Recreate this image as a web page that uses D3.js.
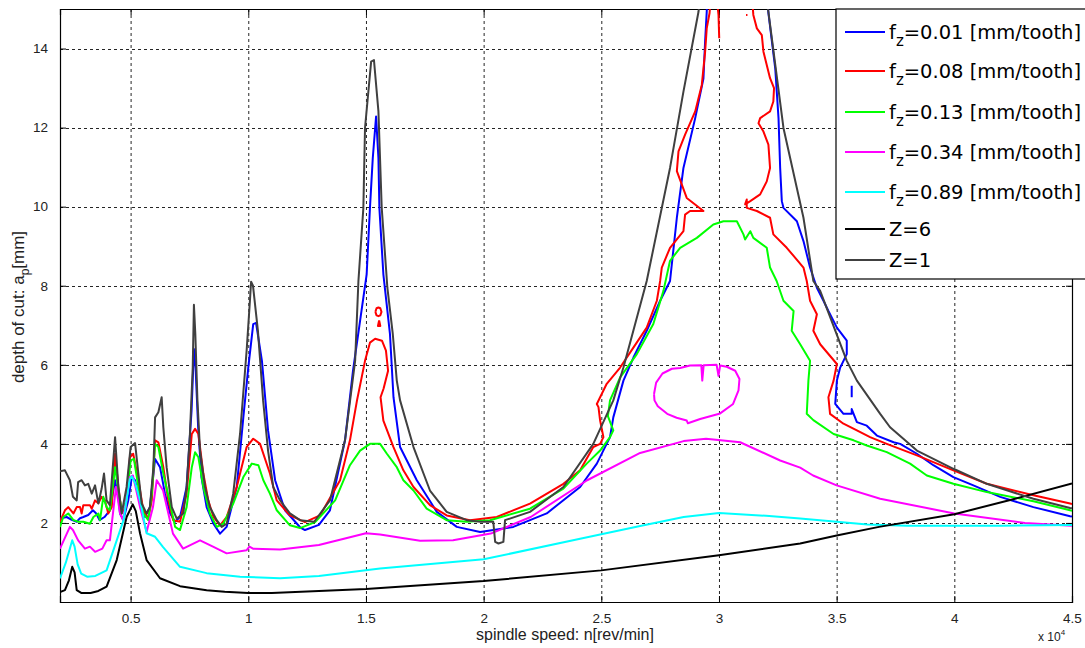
<!DOCTYPE html>
<html><head><meta charset="utf-8">
<script src="https://cdn.jsdelivr.net/npm/d3@7"></script>
<style>body{margin:0;background:#fff}svg{display:block}</style>
</head><body>
<svg id="c" width="1085" height="648"></svg>
<script>
// spindle speed in units of 10^4 rev/min, depth of cut in mm
const xTicks = [0.5,1,1.5,2,2.5,3,3.5,4,4.5];
const xTickLabels = ["0.5","1","1.5","2","2.5","3","3.5","4","4.5"];
const yTicks = [2,4,6,8,10,12,14];
const yTickLabels = ["2","4","6","8","10","12","14"];
const legendLabels = ["0.01","0.08","0.13","0.34","0.89"];

const fz001 = [
 [[0.2,2.11],[0.228,2.15],[0.25,2.08],[0.271,2.03],[0.285,2.12],[0.299,2.15],[0.32,2.2],[0.34,2.32],[0.354,2.24],[0.368,2.07],[0.389,2.15],[0.412,2.32],[0.434,3.08],[0.448,2.66],[0.455,2.24],[0.469,2.07],[0.49,2.57],[0.505,3.16],[0.519,3.08],[0.54,2.49],[0.561,2.15],[0.582,2.4],[0.604,3.62],[0.625,3.41],[0.646,2.74],[0.668,2.24],[0.689,2.03],[0.71,2.15],[0.738,2.91],[0.759,4.84],[0.769,6.40],[0.776,5.93],[0.787,4.42],[0.801,3.16],[0.823,2.4],[0.852,1.98],[0.88,1.73],[0.908,1.9],[0.951,2.91],[0.979,4.67],[1.0,5.93],[1.021,7.03],[1.033,7.06],[1.058,6.1],[1.084,4.34],[1.114,3.08],[1.156,2.32],[1.22,1.89],[1.241,1.82],[1.30,1.95],[1.347,2.32],[1.411,4.09],[1.445,5.85],[1.503,8.29],[1.517,9.97],[1.529,11.23],[1.543,12.28],[1.553,11.23],[1.557,9.97],[1.574,8.29],[1.602,6.78],[1.617,5.18],[1.645,3.92],[1.716,3.08],[1.801,2.28],[1.886,1.9],[1.985,1.77],[2.126,1.9],[2.268,2.24],[2.41,2.91],[2.481,3.5],[2.537,4.17],[2.551,4.67],[2.594,5.6],[2.637,6.19],[2.693,6.86],[2.75,7.62],[2.792,8.12],[2.821,9.72],[2.849,10.98],[2.899,12.24],[2.934,13.24],[2.941,14.17],[2.948,14.93],[2.95,15.3]],
 [[3.205,15.3],[3.21,14.9],[3.239,13.5],[3.253,12.24],[3.26,10.98],[3.267,10.14],[3.274,9.97],[3.331,9.63],[3.359,9.13],[3.387,8.46],[3.416,7.95],[3.444,7.62],[3.465,7.36],[3.501,6.94],[3.543,6.61],[3.543,6.27],[3.515,5.93],[3.501,5.6],[3.494,5.01],[3.529,4.76],[3.564,4.76],[3.564,4.88],[3.586,4.55],[3.628,4.46],[3.671,4.21],[3.742,4.04],[3.77,4.0],[3.841,3.75],[3.911,3.46],[3.996,3.16],[4.081,2.95],[4.195,2.66],[4.336,2.4],[4.492,2.17],[4.5,2.16]],
 [[3.564,5.47],[3.564,5.18]]
];

const fz008 = [
 [[0.2,2.03],[0.221,2.32],[0.235,2.4],[0.257,2.24],[0.271,2.4],[0.285,2.4],[0.292,2.24],[0.299,2.45],[0.327,2.45],[0.335,2.36],[0.349,2.57],[0.363,2.5],[0.377,2.66],[0.391,2.57],[0.405,2.24],[0.42,2.4],[0.434,3.75],[0.448,2.91],[0.462,2.24],[0.48,2.4],[0.497,3.66],[0.511,3.75],[0.533,3.08],[0.554,2.32],[0.575,2.11],[0.59,2.57],[0.604,4.09],[0.618,4.04],[0.639,3.41],[0.66,2.57],[0.681,2.07],[0.71,2.03],[0.738,2.74],[0.76,4.25],[0.774,4.38],[0.788,4.25],[0.809,3.25],[0.83,2.57],[0.852,2.15],[0.88,1.94],[0.908,2.15],[0.951,2.91],[0.993,3.92],[1.021,4.13],[1.05,4.0],[1.092,3.25],[1.121,2.57],[1.177,2.19],[1.241,2.02],[1.305,2.19],[1.39,3.08],[1.432,4.09],[1.462,5.1],[1.496,6.1],[1.517,6.56],[1.539,6.66],[1.568,6.61],[1.585,6.36],[1.594,5.85],[1.575,5.4],[1.562,5.18],[1.574,4.59],[1.617,3.92],[1.659,3.33],[1.702,2.91],[1.772,2.45],[1.843,2.19],[1.942,2.07],[2.056,2.15],[2.197,2.49],[2.339,2.99],[2.41,3.33],[2.466,3.92],[2.495,4.0],[2.509,4.17],[2.495,4.59],[2.488,4.93],[2.481,5.01],[2.495,5.18],[2.523,5.52],[2.58,5.93],[2.637,6.44],[2.693,6.94],[2.736,7.62],[2.75,8.12],[2.757,8.46],[2.792,8.96],[2.849,9.38],[2.856,9.8],[2.877,9.89],[2.934,9.89],[2.863,10.22],[2.821,10.9],[2.828,11.4],[2.856,11.82],[2.899,12.41],[2.927,13.08],[2.941,13.91],[2.948,14.51],[2.96,14.9],[2.965,15.3]],
 [[2.99,15.3],[2.998,14.85],[3.001,14.26]],
 [[3.115,14.85],[3.121,14.85]],
 [[3.14,15.3],[3.146,14.85],[3.161,14.51],[3.182,14.34],[3.189,13.92],[3.217,13.25],[3.234,13.0],[3.231,12.66],[3.217,12.41],[3.175,12.24],[3.168,12.11],[3.189,11.9],[3.21,11.57],[3.217,10.98],[3.203,10.64],[3.175,10.31],[3.133,10.14],[3.111,10.06],[3.118,10.18],[3.118,9.97],[3.161,9.89],[3.217,9.72],[3.231,9.3],[3.288,8.96],[3.359,8.46],[3.373,8.12],[3.387,7.62],[3.416,7.28],[3.401,6.86],[3.43,6.52],[3.501,6.02],[3.487,5.6],[3.465,5.18],[3.472,4.76],[3.529,4.51],[3.586,4.34],[3.642,4.17],[3.713,4.0],[3.841,3.71],[3.996,3.33],[4.138,2.99],[4.336,2.7],[4.492,2.49],[4.5,2.48]],
 [[1.540,7.34],[1.545,7.43],[1.553,7.45],[1.561,7.43],[1.566,7.34],[1.561,7.25],[1.553,7.23],[1.545,7.25],[1.540,7.34]],
 [[1.556,7.12],[1.561,6.98],[1.551,6.98],[1.556,7.12]]
];

const fz013 = [
 [[0.2,1.9],[0.214,2.15],[0.235,2.24],[0.257,2.07],[0.278,2.03],[0.299,2.03],[0.327,1.98],[0.342,2.15],[0.363,2.24],[0.37,2.07],[0.384,2.66],[0.398,2.4],[0.412,2.32],[0.434,3.41],[0.448,2.82],[0.462,2.32],[0.483,2.57],[0.5,3.58],[0.514,3.62],[0.533,2.91],[0.554,2.24],[0.575,2.07],[0.59,2.74],[0.604,4.0],[0.618,3.92],[0.639,3.25],[0.668,2.49],[0.689,1.9],[0.71,1.82],[0.738,2.4],[0.76,3.41],[0.774,3.79],[0.788,3.66],[0.809,2.91],[0.837,2.24],[0.866,1.9],[0.894,1.98],[0.936,2.49],[0.979,3.16],[1.015,3.5],[1.043,3.46],[1.064,3.08],[1.092,2.74],[1.121,2.32],[1.177,1.94],[1.22,1.87],[1.284,2.02],[1.369,2.57],[1.432,3.46],[1.475,3.83],[1.517,4.0],[1.56,4.0],[1.589,3.75],[1.631,3.41],[1.659,3.08],[1.702,2.82],[1.758,2.36],[1.843,2.07],[1.928,2.03],[2.027,2.07],[2.197,2.36],[2.339,2.87],[2.438,3.5],[2.495,3.83],[2.537,4.17],[2.551,4.34],[2.528,4.7],[2.537,5.1],[2.58,5.68],[2.651,6.27],[2.721,7.03],[2.764,7.87],[2.792,8.63],[2.835,8.96],[2.906,9.21],[2.976,9.55],[3.019,9.63],[3.076,9.63],[3.104,9.3],[3.111,9.17],[3.133,9.38],[3.146,9.21],[3.203,8.96],[3.217,8.46],[3.245,8.12],[3.274,7.62],[3.317,7.36],[3.309,6.86],[3.345,6.52],[3.387,6.1],[3.38,5.6],[3.373,4.76],[3.401,4.6],[3.487,4.25],[3.572,4.09],[3.628,3.96],[3.713,3.79],[3.812,3.5],[3.883,3.2],[3.996,2.99],[4.138,2.78],[4.336,2.55],[4.492,2.32],[4.5,2.31]]
];

const fz034 = [
 [[0.2,1.35],[0.242,1.9],[0.255,1.82],[0.277,1.56],[0.306,1.35],[0.327,1.4],[0.349,1.27],[0.38,1.35],[0.398,1.56],[0.412,1.56],[0.425,2.24],[0.438,2.91],[0.455,2.24],[0.468,2.07],[0.497,3.16],[0.51,3.2],[0.54,2.4],[0.568,1.77],[0.595,2.4],[0.611,3.08],[0.638,2.82],[0.68,1.73],[0.723,1.35],[0.795,1.56],[0.85,1.4],[0.908,1.23],[0.993,1.31],[1.005,1.4],[1.02,1.35],[1.135,1.33],[1.3,1.44],[1.5,1.74],[1.56,1.71],[1.73,1.55],[1.87,1.56],[2.03,1.73],[2.2,2.15],[2.44,3.08],[2.665,3.77],[2.85,4.07],[2.945,4.13],[3.09,4.04],[3.26,3.58],[3.345,3.4],[3.4,3.2],[3.5,2.95],[3.685,2.61],[4.0,2.24],[4.3,2.0],[4.5,1.93]],
 [[2.724,5.26],[2.733,5.55],[2.76,5.78],[2.8,5.9],[2.835,5.92],[2.877,5.98],[2.925,5.99],[2.929,5.6],[2.935,5.99],[2.99,6.0],[2.998,5.72],[3.005,5.98],[3.033,5.95],[3.069,5.85],[3.087,5.64],[3.083,5.35],[3.06,5.01],[3.005,4.77],[2.92,4.63],[2.868,4.52],[2.863,4.59],[2.82,4.66],[2.78,4.76],[2.74,4.95],[2.726,5.1],[2.724,5.26]]
];

const fz089 = [
 [[0.2,0.6],[0.225,1.0],[0.252,1.56],[0.262,1.4],[0.275,0.95],[0.29,0.72],[0.315,0.64],[0.35,0.66],[0.398,0.8],[0.441,1.56],[0.47,2.07],[0.496,3.1],[0.505,3.18],[0.52,3.0],[0.54,2.57],[0.568,1.74],[0.604,1.65],[0.638,1.39],[0.71,0.89],[0.823,0.73],[0.965,0.64],[1.135,0.6],[1.3,0.66],[1.56,0.85],[2.0,1.08],[2.41,1.6],[2.665,1.92],[2.85,2.15],[3.0,2.25],[3.2,2.18],[3.345,2.11],[3.5,2.03],[3.63,1.96],[3.8,1.93],[4.2,1.93],[4.5,1.95]]
];

const zSix = [
 [[0.2,0.25],[0.221,0.3],[0.238,0.55],[0.252,0.89],[0.262,0.75],[0.271,0.3],[0.29,0.23],[0.33,0.23],[0.363,0.28],[0.398,0.39],[0.441,1.06],[0.483,2.15],[0.509,2.47],[0.522,2.3],[0.54,1.74],[0.568,1.06],[0.625,0.6],[0.71,0.4],[0.823,0.3],[0.9,0.26],[1.0,0.23],[1.1,0.23],[1.2,0.25],[1.5,0.33],[2.0,0.53],[2.5,0.8],[3.0,1.18],[3.345,1.48],[3.5,1.68],[3.68,1.9],[4.0,2.22],[4.25,2.6],[4.5,3.0]]
];

const zOne = [
 [[0.2,3.31],[0.221,3.33],[0.242,3.08],[0.255,2.66],[0.271,2.57],[0.277,3.03],[0.292,3.08],[0.306,2.95],[0.32,2.99],[0.335,2.74],[0.349,2.95],[0.363,2.49],[0.377,2.87],[0.387,3.25],[0.398,2.57],[0.412,2.45],[0.434,4.17],[0.448,2.91],[0.462,2.24],[0.483,2.91],[0.5,3.92],[0.519,4.02],[0.533,3.25],[0.547,2.49],[0.568,2.24],[0.582,2.4],[0.597,3.41],[0.604,4.67],[0.618,4.8],[0.632,5.18],[0.639,4.42],[0.653,3.41],[0.675,2.4],[0.696,2.11],[0.724,2.24],[0.738,2.91],[0.752,4.25],[0.764,5.93],[0.769,7.52],[0.775,6.78],[0.784,5.1],[0.795,3.83],[0.816,2.91],[0.837,2.4],[0.866,2.07],[0.887,1.9],[0.908,1.98],[0.936,2.74],[0.965,4.25],[0.993,6.36],[1.007,7.62],[1.012,8.1],[1.02,8.0],[1.041,6.86],[1.063,5.1],[1.084,3.83],[1.106,2.91],[1.135,2.57],[1.177,2.24],[1.22,2.07],[1.28,2.03],[1.347,2.57],[1.411,4.09],[1.454,6.1],[1.468,8.12],[1.489,9.97],[1.496,11.99],[1.522,13.67],[1.534,13.71],[1.553,12.41],[1.567,9.97],[1.591,7.95],[1.614,6.78],[1.631,5.6],[1.645,5.1],[1.702,3.92],[1.772,2.82],[1.843,2.28],[1.928,2.07],[1.985,2.03],[2.041,2.03],[2.049,1.52],[2.063,1.48],[2.084,1.52],[2.091,2.07],[2.197,2.28],[2.339,2.91],[2.466,4.0],[2.551,5.1],[2.594,5.93],[2.693,8.12],[2.792,10.98],[2.849,12.91],[2.913,14.93],[2.92,15.3]],
 [[3.2,15.3],[3.21,14.93],[3.274,11.99],[3.359,9.72],[3.401,8.12],[3.43,7.87],[3.543,6.1],[3.586,5.6],[3.685,4.76],[3.727,4.42],[3.841,3.83],[3.996,3.37],[4.138,2.99],[4.336,2.61],[4.492,2.38],[4.5,2.37]]
];

const series = [
  {data: fz001, color:"#0000ff"},
  {data: fz008, color:"#ff0000"},
  {data: fz013, color:"#00ff00"},
  {data: fz034, color:"#ff00ff"},
  {data: fz089, color:"#00ffff"},
  {data: zSix, color:"#000000"},
  {data: zOne, color:"#404040"}
];

const W=1085,H=648, L=60, R=1072, T=9, B=602;
const svg = d3.select("#c");
svg.append("rect").attr("width",W).attr("height",H).attr("fill","#fff");
const x = d3.scaleLinear().domain([0.2,4.5]).range([L,R]);
const y = d3.scaleLinear().domain([0,15]).range([B,T]);

// grid
const g = svg.append("g");
g.selectAll(".gx").data(xTicks.filter(v=>v<4.5)).join("line")
  .attr("x1",d=>x(d)+0.5).attr("x2",d=>x(d)+0.5).attr("y1",T).attr("y2",B)
  .attr("stroke","#000").attr("stroke-width",1).attr("stroke-dasharray","3,3").attr("opacity",0.85);
g.selectAll(".gy").data(yTicks).join("line")
  .attr("y1",d=>Math.round(y(d))+0.5).attr("y2",d=>Math.round(y(d))+0.5).attr("x1",L).attr("x2",R)
  .attr("stroke","#000").attr("stroke-width",1).attr("stroke-dasharray","3,3").attr("opacity",0.85);

// axes with inward ticks
const xAxB = d3.axisBottom(x).tickValues(xTicks).tickSize(-6).tickFormat((d,i)=>xTickLabels[i]).tickPadding(11);
const yAxL = d3.axisLeft(y).tickValues(yTicks).tickSize(-6).tickFormat((d,i)=>yTickLabels[i]).tickPadding(12);
const ax1 = svg.append("g").attr("transform",`translate(0,${B})`).call(xAxB);
const ax2 = svg.append("g").attr("transform",`translate(${L},0)`).call(yAxL);
const ax3 = svg.append("g").attr("transform",`translate(0,${T})`).call(d3.axisTop(x).tickValues(xTicks).tickSize(-6).tickFormat(""));
const ax4 = svg.append("g").attr("transform",`translate(${R},0)`).call(d3.axisRight(y).tickValues(yTicks).tickSize(-6).tickFormat(""));
[ax1,ax2,ax3,ax4].forEach(a=>{
  a.selectAll(".domain").attr("stroke","#000").attr("stroke-width",1.2);
  a.selectAll(".tick line").attr("stroke","#000");
  a.selectAll("text").attr("font-family","Liberation Sans, Arial, sans-serif").attr("font-size",13.5).attr("fill","#222");
});

// clip
svg.append("clipPath").attr("id","pc").append("rect").attr("x",L).attr("y",T).attr("width",R-L).attr("height",B-T);
const line = d3.line().x(d=>x(d[0])).y(d=>y(d[1]));
const lg = svg.append("g").attr("clip-path","url(#pc)");
series.forEach(s=>{
  lg.selectAll(null).data(s.data).join("path").attr("d",line)
    .attr("fill","none").attr("stroke",s.color).attr("stroke-width",2).attr("stroke-linejoin","round");
});

// axis labels
svg.append("text").attr("x",565).attr("y",640).attr("text-anchor","middle")
  .attr("font-family","Liberation Sans, Arial, sans-serif").attr("font-size",16).attr("fill","#222")
  .text("spindle speed: n[rev/min]");
const yl = svg.append("text").attr("transform","translate(24,307) rotate(-90)").attr("text-anchor","middle")
  .attr("font-family","Liberation Sans, Arial, sans-serif").attr("font-size",17).attr("fill","#222");
yl.append("tspan").text("depth of cut: a");
yl.append("tspan").attr("dy",5).attr("font-size",12).text("p");
yl.append("tspan").attr("dy",-5).text("[mm]");
const ex = svg.append("text").attr("x",1038).attr("y",641).attr("font-family","Liberation Sans, Arial, sans-serif").attr("font-size",12).attr("fill","#222");
ex.append("tspan").text("x 10");
ex.append("tspan").attr("dy",-6).attr("font-size",8).text("4");

// legend
const lgX=836, lgY=T, lgH=270;
svg.append("rect").attr("x",lgX).attr("y",lgY).attr("width",W-lgX+10).attr("height",lgH)
  .attr("fill","#fff").attr("stroke","#000").attr("stroke-width",1.2);
const entryY = [32,71,112,152,192,229,260];
series.forEach((s,i)=>{
  const yy = entryY[i];
  svg.append("line").attr("x1",845).attr("x2",885).attr("y1",yy).attr("y2",yy).attr("stroke",s.color).attr("stroke-width",2);
  const t = svg.append("text").attr("x",889).attr("y",yy+7).attr("font-family","DejaVu Sans, Verdana, sans-serif").attr("font-size",19.5).attr("fill","#000");
  if(i<5){
    t.append("tspan").text("f");
    t.append("tspan").attr("dy",7).attr("font-size",15).text("z");
    t.append("tspan").attr("dy",-7).text("="+legendLabels[i]+" [mm/tooth]");
  } else {
    t.text(i===5?"Z=6":"Z=1");
  }
});
</script>
</body></html>
